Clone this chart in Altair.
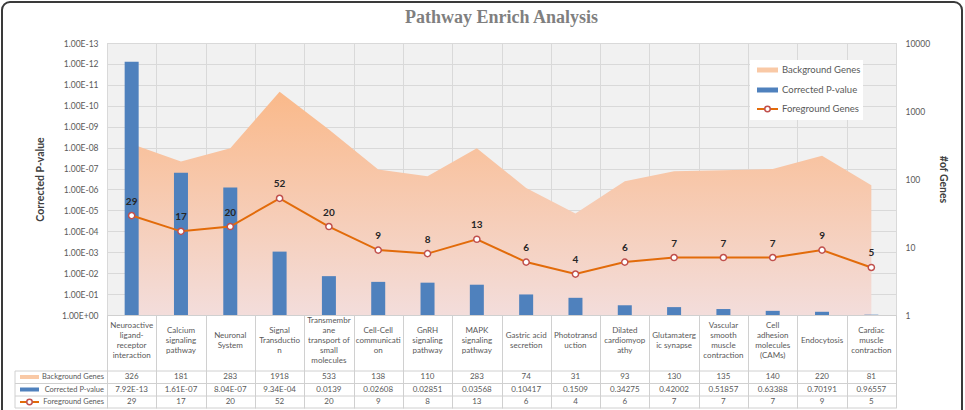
import altair as alt
import pandas as pd

# ---- data -------------------------------------------------------------
pathways = [
    "Neuroactive ligand-receptor interaction",
    "Calcium signaling pathway",
    "Neuronal System",
    "Signal Transduction",
    "Transmembrane transport of small molecules",
    "Cell-Cell communication",
    "GnRH signaling pathway",
    "MAPK signaling pathway",
    "Gastric acid secretion",
    "Phototransduction",
    "Dilated cardiomyopathy",
    "Glutamatergic synapse",
    "Vascular smooth muscle contraction",
    "Cell adhesion molecules (CAMs)",
    "Endocytosis",
    "Cardiac muscle contraction",
]
header_labels = [
    "Neuroactive\nligand-\nreceptor\ninteraction",
    "Calcium\nsignaling\npathway",
    "Neuronal\nSystem",
    "Signal\nTransductio\nn",
    "Transmembr\nane\ntransport of\nsmall\nmolecules",
    "Cell-Cell\ncommunicati\non",
    "GnRH\nsignaling\npathway",
    "MAPK\nsignaling\npathway",
    "Gastric acid\nsecretion",
    "Phototransd\nuction",
    "Dilated\ncardiomyop\nathy",
    "Glutamaterg\nic synapse",
    "Vascular\nsmooth\nmuscle\ncontraction",
    "Cell\nadhesion\nmolecules\n(CAMs)",
    "Endocytosis",
    "Cardiac\nmuscle\ncontraction",
]
background_genes = [326, 181, 283, 1918, 533, 138, 110, 283, 74, 31, 93, 130, 135, 140, 220, 81]
corrected_p = [7.92e-13, 1.61e-07, 8.04e-07, 9.34e-04, 0.0139, 0.02608, 0.02851, 0.03568,
               0.10417, 0.1509, 0.34275, 0.42002, 0.51857, 0.63388, 0.70191, 0.96557]
foreground_genes = [29, 17, 20, 52, 20, 9, 8, 13, 6, 4, 6, 7, 7, 7, 9, 5]


def p_text(v):
    return f"{v:.2E}" if v < 0.01 else f"{v:g}"


df = pd.DataFrame({
    "pathway": pathways,
    "header": header_labels,
    "background": background_genes,
    "pvalue": corrected_p,
    "plabel": [p_text(v) for v in corrected_p],
    "foreground": foreground_genes,
})
one = pd.DataFrame({"_": [0]})

# ---- style ------------------------------------------------------------
W, H = 789, 272
FONT = "Lato"
BLUE = "#4f81bd"
ORANGE = "#e26b0a"
MARKER = "#c0504d"
LIGHT_ORANGE = "#f9c9a6"
GRID = "#d9d9d9"
TEXT = "#595959"
HEADER_MID = 298      # vertical centre of the wrapped pathway names (px below plot top)
HEADER_LINE = 10      # line height of the wrapped names

x_axis = alt.Axis(title=None, labels=False, ticks=True, tickBand="extent", tickSize=93,
                  tickColor="#d0d0d0", domain=True, domainColor="#d0d0d0",
                  grid=True, gridColor=GRID)
x_enc = alt.X("pathway:N", sort=pathways,
              scale=alt.Scale(paddingInner=0, paddingOuter=0), axis=x_axis)

p_ticks = [10.0 ** -k for k in range(13, -1, -1)]
p_label = ("'1.00E' + (round(log(datum.value)/LN10) < 0 ? '-' : '+') + "
           "(abs(round(log(datum.value)/LN10)) < 10 ? '0' : '') + "
           "abs(round(log(datum.value)/LN10))")
left_axis = alt.Axis(orient="left", values=p_ticks, labelExpr=p_label, grid=True,
                     gridColor=GRID, ticks=False, domain=False, labelPadding=9,
                     labelFont=FONT, labelFontSize=8.5, labelColor=TEXT,
                     title="Corrected P-value", titleFont=FONT, titleFontSize=10.5,
                     titleFontWeight="bold", titleColor="#404040", titlePadding=16)
right_scale = alt.Scale(type="log", domain=[1, 10000])
right_axis = alt.Axis(orient="right", values=[1, 10, 100, 1000, 10000], format="d",
                      grid=False, ticks=False, domain=False, labelPadding=9,
                      labelFont=FONT, labelFontSize=8.5, labelColor=TEXT,
                      title="#of Genes", titleFont=FONT, titleFontSize=10.5,
                      titleFontWeight="bold", titleColor="#404040", titlePadding=8)

gradient = alt.Gradient(
    gradient="linear",
    stops=[alt.GradientStop(color="#f3dddb", offset=0),
           alt.GradientStop(color="#fab98a", offset=1)],
    x1=1, x2=1, y1=1, y2=0,
)

# ---- plot marks -------------------------------------------------------
area = alt.Chart(df).mark_area(color=gradient).encode(
    x=x_enc,
    y=alt.Y("background:Q", scale=right_scale, axis=right_axis),
    y2=alt.datum(1),
)

bars = alt.Chart(df).mark_bar(size=14, color=BLUE).encode(
    x=x_enc,
    y=alt.Y("pvalue:Q", scale=alt.Scale(type="log", domain=[1e-13, 1], reverse=True),
            axis=left_axis),
    y2=alt.datum(1),
)

fg_y = alt.Y("foreground:Q", scale=right_scale, axis=None)
fg_base = alt.Chart(df).encode(x=x_enc, y=fg_y)
fg_line = fg_base.mark_line(color=ORANGE, strokeWidth=2)
fg_points = fg_base.mark_point(shape="circle", filled=True, fill="white", stroke=MARKER,
                               strokeWidth=1.5, size=38, opacity=1)
fg_labels = fg_base.mark_text(dy=-14, font=FONT, fontSize=10, fontWeight="bold",
                              color="#262626").encode(text="foreground:Q")
foreground = alt.layer(fg_line, fg_points, fg_labels)


# ---- helpers for table and legend ------------------------------------
def hline(y, x1, x2, color="#d0d0d0", width=1):
    return alt.Chart(one).mark_rule(color=color, strokeWidth=width).encode(
        x=alt.value(x1), x2=alt.value(x2), y=alt.value(y))


def vline(x, y1, y2, color="#d0d0d0"):
    return alt.Chart(one).mark_rule(color=color).encode(
        x=alt.value(x), y=alt.value(y1), y2=alt.value(y2))


def label(txt, x, y, align="left", size=8.0, color=TEXT, font=FONT, **kw):
    return alt.Chart(one).mark_text(text=txt, align=align, baseline="middle", font=font,
                                    fontSize=size, color=color, **kw).encode(
        x=alt.value(x), y=alt.value(y))


def marker(x, y):
    return alt.Chart(one).mark_point(shape="circle", filled=True, fill="white",
                                     stroke=MARKER, strokeWidth=1.5, size=30,
                                     opacity=1).encode(x=alt.value(x), y=alt.value(y))


# data table under the plot
ROW_Y = [334, 346.5, 359]
table_text = dict(font=FONT, fontSize=8, color=TEXT, baseline="middle")

# pixel scale (value == px below the plot top) used to centre each wrapped name
pixel_y = alt.Scale(domain=[0, H], reverse=True)
header = alt.Chart(df).transform_calculate(
    ypos=f"{HEADER_MID} - (length(split(datum.header, '\\n')) - 1) * {HEADER_LINE / 2}"
).mark_text(lineBreak="\n", lineHeight=HEADER_LINE, **table_text).encode(
    x=x_enc, y=alt.Y("ypos:Q", scale=pixel_y, axis=None), text="header:N")
row_bg = alt.Chart(df).mark_text(**table_text).encode(
    x=x_enc, y=alt.value(ROW_Y[0]), text=alt.Text("background:Q", format="d"))
row_p = alt.Chart(df).mark_text(**table_text).encode(
    x=x_enc, y=alt.value(ROW_Y[1]), text="plabel:N")
row_fg = alt.Chart(df).mark_text(**table_text).encode(
    x=x_enc, y=alt.value(ROW_Y[2]), text=alt.Text("foreground:Q", format="d"))

table_lines = [hline(y, -92, W) for y in (328, 340.5, 353, 365)] + [vline(-92, 328, 365)]
table_keys = [
    hline(ROW_Y[0], -87, -68, LIGHT_ORANGE, 4),
    hline(ROW_Y[1], -87, -68, BLUE, 4),
    hline(ROW_Y[2], -87, -68, ORANGE, 2),
    marker(-77.5, ROW_Y[2]),
    label("Background Genes", -3, ROW_Y[0], align="right", size=7.5),
    label("Corrected P-value", -3, ROW_Y[1], align="right", size=7.5),
    label("Foreground Genes", -3, ROW_Y[2], align="right", size=7.5),
]

# legend box inside the plot
legend_box = alt.Chart(one).mark_rect(fill="white").encode(
    x=alt.value(643), x2=alt.value(756), y=alt.value(17), y2=alt.value(77))
legend = [
    legend_box,
    hline(27, 650, 671, LIGHT_ORANGE, 5),
    hline(47, 650, 671, BLUE, 5),
    hline(66, 650, 671, ORANGE, 2),
    marker(660.5, 66),
    label("Background Genes", 675, 27, size=9.5),
    label("Corrected P-value", 675, 47, size=9.5),
    label("Foreground Genes", 675, 66, size=9.5),
]

title = label("Pathway Enrich Analysis", W / 2, -25, align="center", size=18,
              color="#7f7f7f", font="Liberation Serif", fontWeight="bold")

frame = alt.Chart(one).mark_rect(fillOpacity=0, stroke="#3a3a3a", strokeWidth=2,
                                 cornerRadius=8).encode(
    x=alt.value(-105), x2=alt.value(855), y=alt.value(-41), y2=alt.value(400))

chart = alt.layer(
    area, bars, foreground,
    header, row_bg, row_p, row_fg,
    *table_lines, *table_keys, *legend, title, frame,
).resolve_scale(
    y="independent"
).properties(
    width=W, height=H,
    padding={"left": 107, "top": 43, "right": 69, "bottom": 95},
    autosize=alt.AutoSizeParams(type="none"),
    background="white",
).configure_view(
    fill="#f1f1f1", stroke="#d0d0d0"
)

chart.save("out.html", embed_options={"renderer": "svg", "actions": False})
